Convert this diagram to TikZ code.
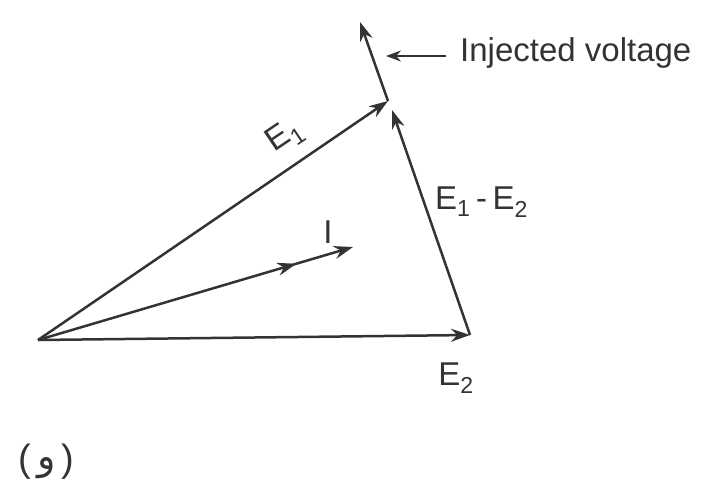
\documentclass[tikz,border=0pt]{standalone}
\usepackage{fontspec}
\setmainfont{Liberation Sans}
\newfontfamily\arabicfont[Script=Arabic]{DejaVu Sans}
\TeXXeTstate=1
\usetikzlibrary{arrows.meta,decorations.markings}
\begin{document}
\begin{tikzpicture}[x=1pt,y=-1pt,
  vec/.style={line width=2.5pt,draw={black!80},-{Stealth[length=19pt,width=13pt]}},
  lbl/.style={font=\fontsize{33}{33}\selectfont,text=black!80,inner sep=0pt},
  midarrow/.style={postaction={decorate},decoration={markings,mark=at position #1 with {\arrow{Stealth[length=19pt,width=13pt]}}}}]
\useasboundingbox (0,0) rectangle (706,490);
\coordinate (O) at (38,340);
\coordinate (E2) at (470,335);
\coordinate (P) at (388,101);
\coordinate (P2) at (392,110);
\coordinate (T) at (360,22);
\coordinate (Itip) at (353,247);
\coordinate (Ia) at (446,56);
\coordinate (Ib) at (386,56);
% vectors
\draw[vec] (O) -- (E2);
\draw[vec] (O) -- (P);
\draw[vec,midarrow=0.82] (O) -- (Itip);
\draw[vec] (E2) -- (P2);
\draw[vec] (P) -- (T);
\draw[line width=2.2pt,draw={black!80},-{Stealth[length=15pt,width=11pt]}] (Ia) -- (Ib);
% labels
\node[lbl,anchor=west] (inj) at (460,53) {Injected voltage};
\node[lbl,rotate=34] (e1) at (285,136) {E\textsubscript{1}};
\node[lbl,anchor=west] (e12) at (435,202) {E\textsubscript{1}\,-\,E\textsubscript{2}};
\node[lbl] (i) at (328,232) {I};
\node[lbl] (e2) at (456,378) {E\textsubscript{2}};
\node[lbl,anchor=west,font=\fontsize{38}{38}\selectfont] (g) at (18,462) {(\,\raisebox{0.05em}{\arabicfont\beginR و\endR}\,)};
\end{tikzpicture}
\end{document}
